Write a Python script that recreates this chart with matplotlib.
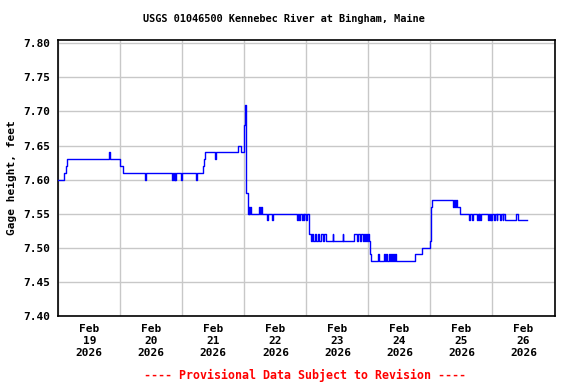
import matplotlib
matplotlib.use("Agg")
import matplotlib.pyplot as plt
import matplotlib.dates as mdates
import numpy as np

# gage height readings: hours after Feb 19 2026 00:00, feet
hours = [0.0, 2.4, 2.9, 3.3, 19.8, 20.2, 24.0, 25.1, 33.4, 33.8,
         44.0, 44.3, 44.6, 45.0, 45.3, 45.6, 47.4, 47.7, 53.4, 53.8,
         56.1, 56.5, 56.9, 60.5, 60.9, 69.7, 70.6, 71.8, 72.2, 72.5,
         72.8, 73.3, 73.6, 73.9, 74.3, 74.6, 77.7, 78.1, 78.5, 79.0,
         80.7, 81.0, 82.6, 82.9, 92.5, 92.8, 93.3, 93.6, 94.2, 94.5,
         94.9, 95.2, 96.0, 96.3, 97.1, 97.9, 98.3, 98.6, 99.2, 99.8,
         100.4, 101.0, 101.7, 102.3, 102.9, 103.4, 106.1, 106.4, 110.0, 110.3,
         114.6, 115.6, 116.0, 116.6, 117.2, 117.8, 118.4, 118.8, 119.2, 119.6,
         120.0, 120.3, 120.7, 121.1, 123.6, 123.9, 126.1, 126.4, 126.9, 127.3,
         127.8, 128.3, 128.8, 129.2, 129.6, 130.0, 130.4, 130.8, 138.1, 140.9,
         143.9, 144.1, 144.3, 144.7, 152.7, 153.0, 153.4, 153.8, 154.2, 155.5,
         159.1, 159.4, 160.0, 160.3, 162.0, 162.3, 162.6, 162.9, 163.1, 163.4,
         166.2, 166.5, 166.9, 167.3, 167.5, 167.8, 168.5, 168.8, 169.6, 169.9,
         171.1, 171.4, 171.9, 172.2, 172.9, 177.2, 178.0, 181.3]
gage = [7.60, 7.61, 7.62, 7.63, 7.64, 7.63, 7.62, 7.61, 7.60, 7.61,
        7.60, 7.61, 7.60, 7.61, 7.60, 7.61, 7.60, 7.61, 7.60, 7.61,
        7.62, 7.63, 7.64, 7.63, 7.64, 7.65, 7.64, 7.68, 7.71, 7.62,
        7.58, 7.55, 7.56, 7.55, 7.56, 7.55, 7.56, 7.55, 7.56, 7.55,
        7.54, 7.55, 7.54, 7.55, 7.54, 7.55, 7.54, 7.55, 7.54, 7.55,
        7.54, 7.55, 7.54, 7.55, 7.52, 7.51, 7.52, 7.51, 7.52, 7.51,
        7.52, 7.51, 7.52, 7.51, 7.52, 7.51, 7.52, 7.51, 7.52, 7.51,
        7.52, 7.51, 7.52, 7.51, 7.52, 7.51, 7.52, 7.51, 7.52, 7.51,
        7.52, 7.51, 7.49, 7.48, 7.49, 7.48, 7.49, 7.48, 7.49, 7.48,
        7.49, 7.48, 7.49, 7.48, 7.49, 7.48, 7.49, 7.48, 7.49, 7.50,
        7.51, 7.53, 7.56, 7.57, 7.56, 7.57, 7.56, 7.57, 7.56, 7.55,
        7.54, 7.55, 7.54, 7.55, 7.54, 7.55, 7.54, 7.55, 7.54, 7.55,
        7.54, 7.55, 7.54, 7.55, 7.54, 7.55, 7.54, 7.55, 7.54, 7.55,
        7.54, 7.55, 7.54, 7.55, 7.54, 7.55, 7.54, 7.54]

start = np.datetime64("2026-02-19T00:00")
times = start + (np.array(hours) * 60).astype(int).astype("timedelta64[m]")

title = "USGS 01046500 Kennebec River at Bingham, Maine"
ylabel = "Gage height, feet"
footer = "---- Provisional Data Subject to Revision ----"

plt.rcParams["font.family"] = "DejaVu Sans Mono"
plt.rcParams["font.weight"] = "bold"

fig = plt.figure(figsize=(5.76, 3.84), dpi=100)
ax = fig.add_axes([0.1012, 0.1771, 0.8615, 0.7187])

ax.step(times, gage, where="post", color="#0000ff", lw=1.0, zorder=3)

ax.set_xlim(np.datetime64("2026-02-19T00:00"), np.datetime64("2026-02-27T00:00"))
ax.set_ylim(7.3995, 7.805)
ax.set_yticks(np.arange(7.40, 7.801, 0.05))
ax.yaxis.set_major_formatter(plt.FormatStrFormatter("%.2f"))

ax.xaxis.set_major_locator(mdates.DayLocator())
ax.xaxis.set_major_formatter(plt.NullFormatter())
ax.xaxis.set_minor_locator(mdates.HourLocator(byhour=12))
ax.xaxis.set_minor_formatter(mdates.DateFormatter("%b\n%d\n%Y"))

ax.tick_params(axis="both", which="both", length=0, labelsize=8)
ax.tick_params(axis="x", which="minor", pad=6)
ax.tick_params(axis="y", pad=6)
for lbl in ax.get_xticklabels(minor=True) + ax.get_yticklabels():
    lbl.set_fontweight("bold")

ax.grid(True, which="major", color="#c8c8c8", lw=1.0, zorder=0)
for sp in ax.spines.values():
    sp.set_linewidth(1.2)
    sp.set_color("black")

ax.set_ylabel(ylabel, fontsize=8, fontweight="bold", labelpad=4)
fig.text(0.492, 0.95, title, ha="center", va="center", fontsize=7.4, fontweight="bold")
fig.text(0.53, 0.021, footer, ha="center", va="center", fontsize=8.4,
         fontweight="bold", color="red")

fig.savefig("out.png", dpi=100)
